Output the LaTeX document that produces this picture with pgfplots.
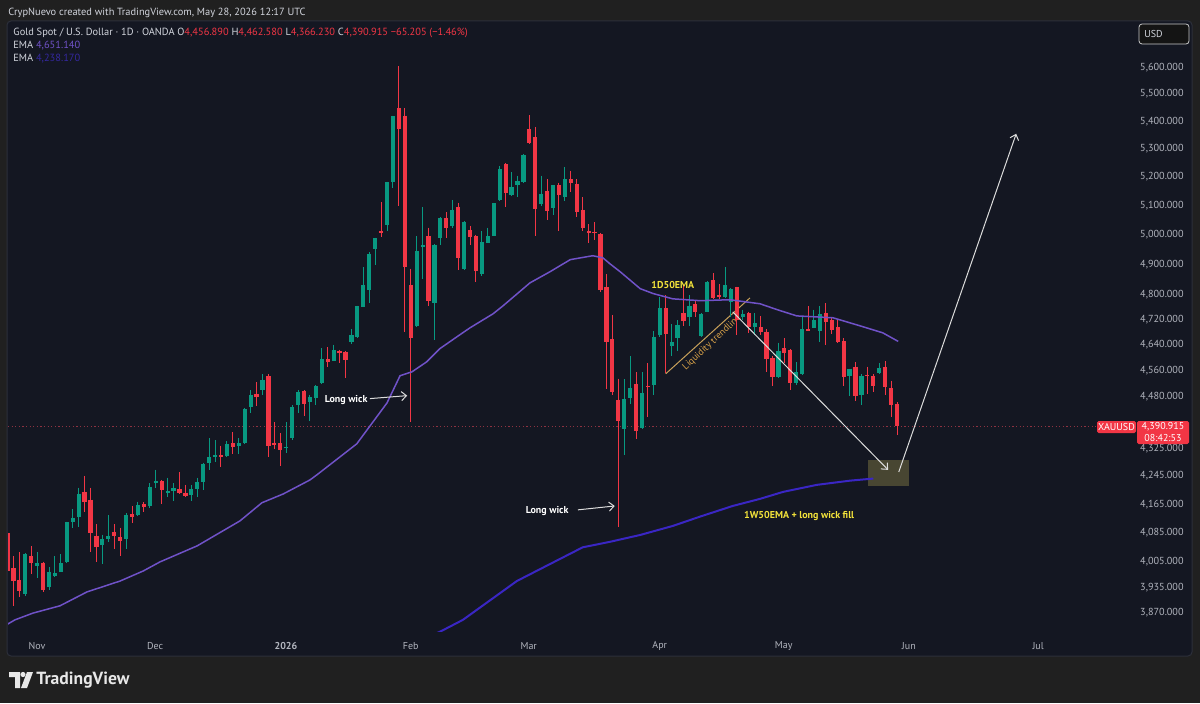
\documentclass[border=0pt]{standalone}
\usepackage{pgfplots}
\pgfplotsset{compat=1.18}
\usepackage{pgfplotstable}
\usepackage{fontspec}
\setmainfont{PT Sans}
\usetikzlibrary{arrows.meta}

\definecolor{outerbg}{RGB}{32,32,32}
\definecolor{chartbg}{RGB}{20,23,34}
\definecolor{boxline}{RGB}{44,47,58}
\definecolor{textc}{RGB}{209,212,220}
\definecolor{tickc}{RGB}{178,181,190}
\definecolor{upc}{RGB}{8,153,129}
\definecolor{dnc}{RGB}{242,54,69}
\definecolor{emaA}{RGB}{112,82,200}
\definecolor{emaB}{RGB}{58,38,196}
\definecolor{emaBtxt}{RGB}{52,40,160}
\definecolor{yel}{RGB}{242,226,58}
\definecolor{liq}{RGB}{200,160,90}
\definecolor{liqtxt}{RGB}{214,160,72}
\definecolor{zone}{RGB}{72,70,50}
\definecolor{arr}{RGB}{220,220,220}
\definecolor{pline}{RGB}{140,50,65}
\definecolor{logoc}{RGB}{232,232,232}

\pgfplotstableread{
i o h l c
3 3920 4028 3915 4026
5 3994 4031 3963 4001
7 3939 3992 3929 3979
8 3967 4021 3965 3976
9 3979 4026 3977 4001
10 4006 4116 4003 4114
11 4116 4150 4099 4127
12 4129 4212 4101 4195
16 4050 4080 3999 4067
17 4067 4134 4060 4077
20 4067 4139 4040 4134
22 4134 4172 4131 4163
24 4160 4225 4155 4215
25 4225 4264 4210 4231
27 4198 4241 4185 4203
28 4203 4225 4175 4210
31 4190 4220 4173 4207
32 4207 4241 4185 4228
33 4229 4284 4205 4280
34 4282 4355 4262 4300
35 4301 4350 4287 4306
37 4303 4347 4301 4337
39 4334 4355 4308 4340
40 4340 4446 4337 4443
41 4449 4500 4432 4484
43 4500 4549 4486 4530
47 4327 4403 4313 4331
48 4355 4454 4350 4449
49 4454 4500 4430 4495
51 4464 4484 4408 4478
52 4475 4516 4454 4511
53 4522 4629 4518 4596
55 4590 4641 4588 4625
58 4649 4689 4644 4670
59 4666 4765 4661 4763
60 4761 4890 4761 4831
61 4816 4940 4773 4936
62 4952 4990 4898 4988
64 5034 5183 5014 5181
65 5181 5420 5160 5418
69 4701 4994 4695 4946
70 4958 5094 4851 4964
72 4775 4968 4655 4966
73 4988 5059 4966 5057
75 5030 5119 5024 5085
77 4886 5045 4880 5043
80 4868 5012 4862 4976
81 4972 5024 4970 4996
82 4997 5109 4994 5107
83 5119 5239 5116 5226
85 5135 5216 5131 5164
86 5172 5204 5129 5185
87 5181 5280 5179 5277
90 5104 5204 5098 5141
92 5091 5172 5067 5170
94 5129 5235 5116 5191
104 4382 4533 4305 4473
105 4475 4605 4457 4505
107 4387 4555 4382 4492
109 4516 4684 4484 4666
110 4672 4793 4666 4758
112 4635 4706 4605 4649
113 4661 4718 4621 4704
115 4729 4798 4701 4763
117 4669 4740 4666 4738
118 4746 4845 4744 4841
121 4793 4892 4789 4831
122 4777 4822 4729 4819
124 4727 4752 4718 4738
126 4698 4740 4672 4710
130 4540 4647 4538 4621
133 4522 4585 4514 4555
134 4549 4731 4546 4689
136 4693 4752 4693 4718
137 4684 4763 4649 4737
142 4544 4566 4481 4566
144 4484 4549 4454 4544
147 4552 4583 4549 4569
}\upT

\pgfplotstableread{
i o h l c
0 4085 4090 3975 3982
1 3990 4021 3887 3953
2 3956 4031 3910 3927
4 4021 4048 3973 4001
6 4003 4006 3926 3929
13 4200 4246 4144 4172
14 4178 4212 4033 4085
15 4077 4109 4006 4045
18 4087 4109 4040 4077
19 4073 4099 4021 4063
21 4136 4160 4111 4129
23 4165 4170 4144 4157
26 4231 4233 4165 4205
29 4207 4256 4195 4197
30 4198 4220 4185 4188
36 4306 4334 4272 4300
38 4340 4373 4308 4331
42 4489 4524 4451 4478
44 4542 4549 4301 4332
45 4342 4403 4324 4336
46 4340 4371 4275 4322
50 4498 4500 4421 4457
54 4596 4633 4572 4585
56 4621 4625 4583 4616
57 4618 4621 4538 4594
63 5014 5112 4991 5006
66 5449 5605 5098 5370
67 5420 5449 4681 4892
68 4833 4886 4403 4661
71 4996 5024 4763 4779
74 5057 5076 4988 5024
76 5095 5110 4880 4920
78 5016 5030 4964 4991
79 4996 5000 4843 4878
84 5244 5248 5095 5144
88 5370 5422 5318 5321
89 5341 5379 4996 5088
91 5151 5191 5051 5079
93 5172 5179 5014 5135
95 5191 5222 5147 5179
96 5176 5191 5061 5077
97 5085 5129 5012 5021
98 5014 5036 4970 5006
99 5010 5043 4982 5006
100 5002 5006 4810 4816
101 4824 4868 4503 4649
102 4659 4735 4484 4495
103 4471 4535 4101 4406
106 4520 4555 4352 4377
108 4513 4583 4419 4509
111 4758 4798 4553 4674
114 4740 4833 4701 4715
116 4769 4781 4729 4746
119 4848 4871 4787 4790
120 4798 4836 4787 4793
123 4824 4827 4672 4718
125 4740 4746 4678 4697
127 4695 4731 4672 4681
128 4681 4689 4555 4596
129 4599 4605 4511 4540
131 4629 4661 4583 4614
132 4625 4627 4500 4522
135 4689 4763 4683 4684
138 4740 4773 4638 4714
139 4720 4727 4674 4686
140 4695 4723 4646 4649
141 4652 4661 4511 4540
143 4572 4585 4468 4481
145 4545 4572 4489 4542
146 4544 4549 4495 4511
148 4572 4588 4484 4508
149 4505 4529 4419 4454
150 4456.89 4462.58 4366.23 4390.915
}\dnT

\pgfplotsset{
  wick/.style={draw=none, mark=none, forget plot,
    error bars/.cd, y dir=minus, y explicit, error mark=none,
    error bar style={draw=#1, line width=0.5pt}},
  body/.style={draw=none, mark=none, forget plot,
    error bars/.cd, y dir=minus, y explicit, error mark=none,
    error bar style={draw=#1, line width=2.1pt}},
}

\newcommand{\hdr}{\fontsize{5.2pt}{6pt}\selectfont}
\newcommand{\ann}{\bfseries\fontsize{5pt}{6pt}\selectfont}

\begin{document}
\begin{tikzpicture}
\begin{scope}[x=0.5pt,y=-0.5pt,shift={(0pt,351.5pt)}]
  \fill[outerbg] (0,0) rectangle (1200,703);
  \filldraw[fill=chartbg, draw=boxline, line width=0.5pt, rounded corners=2pt] (7,21) rectangle (1192,656);
\end{scope}

\begin{axis}[
  at={(4pt,35.5pt)}, anchor=south west,
  scale only axis, width=547pt, height=305pt,
  ymode=log, xmin=0.084, xmax=184.57, ymin=3820, ymax=5776,
  clip mode=individual,
  axis line style={draw=none}, tick style={draw=none},
  major tick length=0pt, minor tick length=0pt,
  ytick={5600,5500,5400,5300,5200,5100,5000,4900,4800,4720,4640,4560,4480,4325,4245,4165,4085,4005,3935,3870},
  yticklabels={{5,600.000},{5,500.000},{5,400.000},{5,300.000},{5,200.000},{5,100.000},{5,000.000},{4,900.000},{4,800.000},{4,720.000},{4,640.000},{4,560.000},{4,480.000},{4,325.000},{4,245.000},{4,165.000},{4,085.000},{4,005.000},{3,935.000},{3,870.000}},
  minor ytick={},
  yticklabel pos=right,
  yticklabel style={anchor=east, xshift=41pt, inner sep=0pt, text=tickc, font=\fontsize{5.1pt}{6pt}\selectfont},
  xtick={4.97,24.9,46.96,68.0,87.9,110.0,130.9,152.0,173.8},
  xticklabels={Nov,Dec,\textbf{2026},Feb,Mar,Apr,May,Jun,Jul},
  xticklabel style={anchor=center, yshift=-7pt, inner sep=0pt, text=tickc, font=\fontsize{5pt}{6pt}\selectfont},
]
% last price line
\draw[pline, line width=0.5pt, dash pattern=on 0.6pt off 1.2pt] (axis cs:0.084,4390.915) -- (axis cs:184.57,4390.915);
% target zone
\fill[zone] (axis cs:145.1,4292) rectangle (axis cs:152.0,4217);
% liquidity trendline
\draw[liq, line width=0.5pt] (axis cs:111.0,4550) -- (axis cs:125.2,4790);
\node[liqtxt, rotate=43, font=\fontsize{4.8pt}{6pt}\selectfont, inner sep=0pt] at (axis cs:118.8,4647) {Liquidity trendline};

% candles
\addplot[wick=upc] table[x=i, y=h, y error minus expr=\thisrow{h}-\thisrow{l}] {\upT};
\addplot[body=upc] table[x=i, y=c, y error minus expr=\thisrow{c}-\thisrow{o}] {\upT};
\addplot[wick=dnc] table[x=i, y=h, y error minus expr=\thisrow{h}-\thisrow{l}] {\dnT};
\addplot[body=dnc] table[x=i, y=o, y error minus expr=\thisrow{o}-\thisrow{c}] {\dnT};

% daily 50 EMA
\addplot[emaA, line width=0.75pt, mark=none] coordinates {
(0,3840) (1.26,3851) (4.3,3869) (8.85,3888) (13.4,3925) (19.0,3954) (22.9,3981) (25.7,4005)
(32.0,4049) (39.2,4118) (42.9,4169) (46.5,4194) (51.0,4234) (52.2,4249) (58.9,4339) (64.0,4461)
(66.2,4544) (68.2,4556) (70.7,4587) (72.9,4628) (76.3,4672) (78.0,4694) (81.9,4739) (83.6,4765)
(88.1,4839) (91.5,4876) (94.9,4916) (98.7,4929) (100.4,4922) (101.6,4902) (103.3,4876) (106.7,4820)
(108.9,4804) (112.2,4787) (116.8,4781) (121.8,4784) (126.9,4771) (129.8,4752) (133.1,4732)
(139.2,4726) (143.8,4700) (147.6,4678) (150.2,4651)
};
% weekly 50 EMA
\addplot[emaB, line width=1pt, mark=none] coordinates {
(68,3790) (72.9,3820) (76.8,3851) (85.9,3954) (97.0,4045) (101.6,4060) (106.7,4079) (112.2,4104)
(116.8,4130) (122.3,4160) (126.9,4180) (130.8,4200) (136.5,4220) (142.1,4232) (146.0,4238)
};

% annotations
\node[white, font=\ann, inner sep=0pt] at (axis cs:57.1,4470) {Long wick};
\draw[arr, line width=0.5pt, -{Straight Barb[length=2.5pt,width=4.5pt]}] (axis cs:61.1,4474) -- (axis cs:67.4,4483);
\node[white, font=\ann, inner sep=0pt] at (axis cs:91.0,4146) {Long wick};
\draw[arr, line width=0.5pt, -{Straight Barb[length=2.5pt,width=4.5pt]}] (axis cs:96.2,4149) -- (axis cs:102.4,4160);
\node[yel, font=\ann, inner sep=0pt] at (axis cs:112.2,4833) {1D50EMA};
\node[yel, font=\ann, inner sep=0pt] at (axis cs:133.5,4132) {1W50EMA + long wick fill};
\draw[arr, line width=0.5pt, -{Straight Barb[length=2.5pt,width=4.5pt]}] (axis cs:122.3,4745) -- (axis cs:148.5,4263);
\draw[arr, line width=0.5pt, -{Straight Barb[length=2.5pt,width=4.5pt]}] (axis cs:150.3,4257) -- (axis cs:170.1,5354);
\end{axis}

\begin{scope}[x=0.5pt,y=-0.5pt,shift={(0pt,351.5pt)}, every node/.style={inner sep=0pt}]
  \node[anchor=west, text=textc, font=\hdr] at (8,13) {CrypNuevo created with TradingView.com, May 28, 2026 12:17 UTC};
  \node[anchor=west, text=textc, font=\hdr] at (13,33) {Gold Spot / U.S. Dollar · 1D · OANDA O{\color{dnc}4,456.890} H{\color{dnc}4,462.580} L{\color{dnc}4,366.230} C{\color{dnc}4,390.915} {\color{dnc}−65.205 (−1.46\%)}};
  \node[anchor=west, text=textc, font=\hdr] at (13,46) {EMA {\color{emaA}4,651.140}};
  \node[anchor=west, text=textc, font=\hdr] at (13,59) {EMA {\color{emaBtxt}4,238.170}};
  % currency box
  \filldraw[fill=black!92, draw=black!70!white!30, line width=0.4pt, rounded corners=1.5pt] (1139,24) rectangle (1189,44);
  \node[anchor=west, text=textc, font=\fontsize{5pt}{6pt}\selectfont] at (1144,34) {USD};
  % last price labels
  \fill[dnc, rounded corners=0.8pt] (1097,421) rectangle (1136,433);
  \node[white, font=\fontsize{5pt}{6pt}\selectfont] at (1116.5,427) {XAUUSD};
  \fill[dnc, rounded corners=0.8pt] (1137,421) rectangle (1189,444);
  \node[white, font=\fontsize{5pt}{6pt}\selectfont] at (1163,426.5) {4,390.915};
  \node[white, font=\fontsize{5pt}{6pt}\selectfont] at (1163,437.5) {08:42:53};
  % TradingView logo
  \fill[logoc] (9,672) -- (20,672) -- (20,688) -- (15,688) -- (15,677) -- (9,677) -- cycle;
  \fill[logoc] (23,674.5) circle (2.6);
  \fill[logoc] (27,672) -- (33,672) -- (27,688) -- (21,688) -- cycle;
  \node[anchor=west, text=logoc, font=\bfseries\fontsize{8.8pt}{10pt}\selectfont] at (36,680) {TradingView};
\end{scope}
\pgfresetboundingbox
\path[use as bounding box] (0,0) rectangle (600pt,351.5pt);
\end{tikzpicture}
\end{document}
